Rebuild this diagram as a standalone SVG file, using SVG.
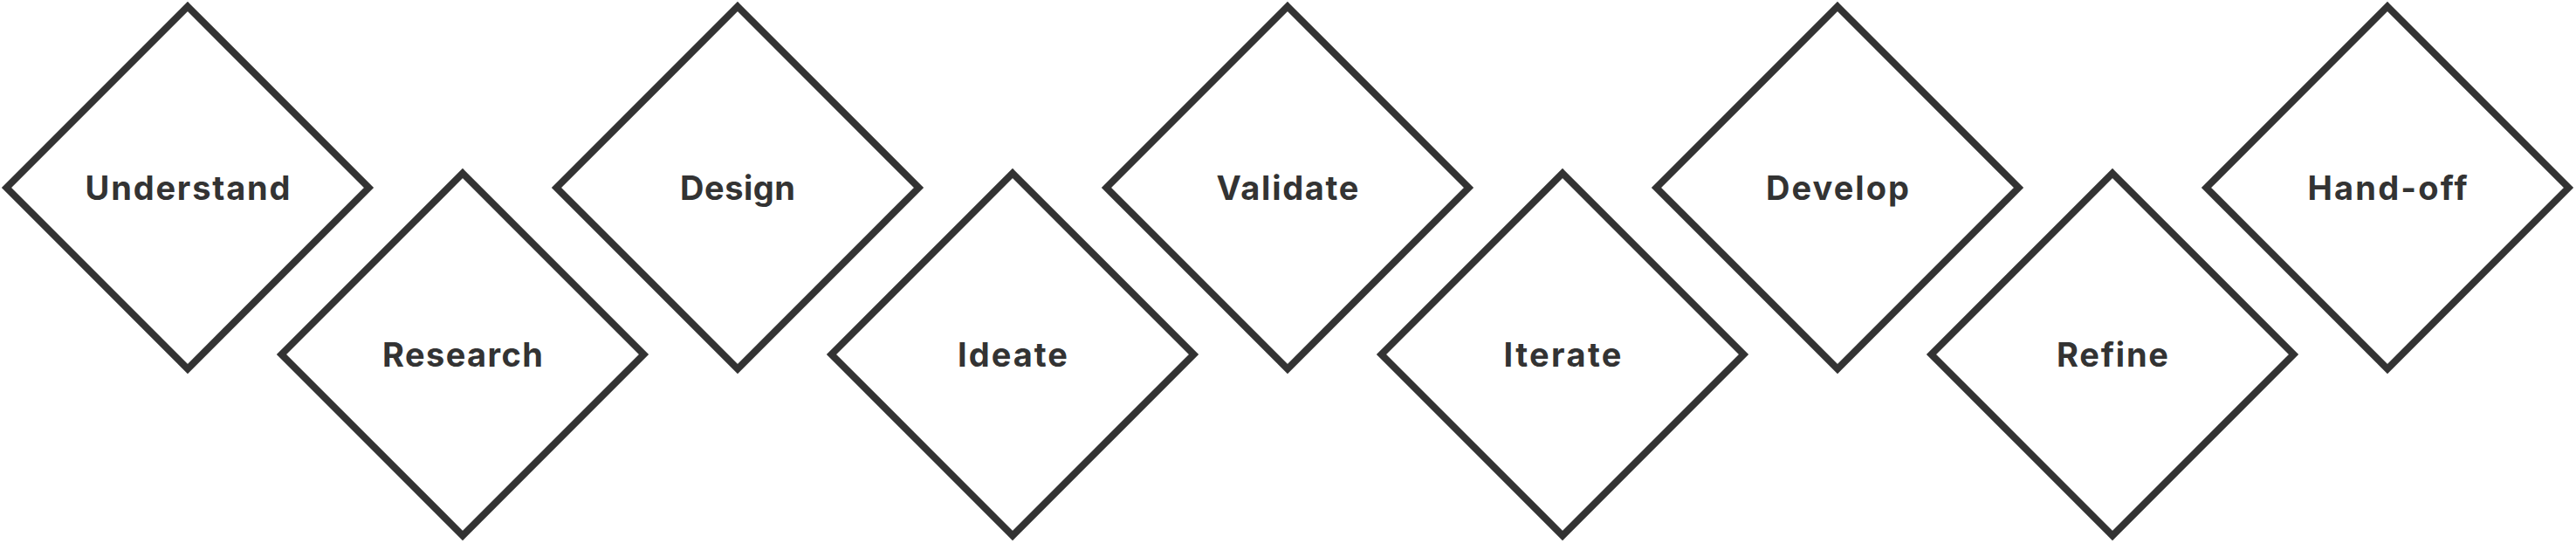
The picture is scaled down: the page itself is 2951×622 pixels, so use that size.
<svg xmlns="http://www.w3.org/2000/svg" width="2951" height="622" viewBox="0 0 2951 622">
<style>
.d{fill:#ffffff;stroke:#333333;stroke-width:8;stroke-linejoin:miter}
.t{font-family:Inter,"Open Sans","Liberation Sans",sans-serif;font-weight:700;font-size:38px;fill:#333333;text-anchor:middle}
</style>
<defs>
<path id="dia" d="M0,-207.5 L207.5,0 L0,207.5 L-207.5,0 Z"/>
</defs>
<rect width="2951" height="622" fill="#ffffff"/>
<g id="connectors"></g>
<g id="understand" transform="translate(215,215)"><use href="#dia" class="d"/><text class="t" x="0" y="13.5" textLength="235" lengthAdjust="spacing">Understand</text></g>
<g id="research" transform="translate(530,406)"><use href="#dia" class="d"/><text class="t" x="0" y="14" textLength="184" lengthAdjust="spacing">Research</text></g>
<g id="design" transform="translate(845,215)"><use href="#dia" class="d"/><text class="t" x="0" y="13.5" textLength="132" lengthAdjust="spacing">Design</text></g>
<g id="ideate" transform="translate(1160,406)"><use href="#dia" class="d"/><text class="t" x="0" y="14" textLength="126" lengthAdjust="spacing">Ideate</text></g>
<g id="validate" transform="translate(1475,215)"><use href="#dia" class="d"/><text class="t" x="0" y="13.5" textLength="163" lengthAdjust="spacing">Validate</text></g>
<g id="iterate" transform="translate(1790,406)"><use href="#dia" class="d"/><text class="t" x="0" y="14" textLength="135" lengthAdjust="spacing">Iterate</text></g>
<g id="develop" transform="translate(2105,215)"><use href="#dia" class="d"/><text class="t" x="0" y="13.5" textLength="164" lengthAdjust="spacing">Develop</text></g>
<g id="refine" transform="translate(2420,406)"><use href="#dia" class="d"/><text class="t" x="0" y="14" textLength="128" lengthAdjust="spacing">Refine</text></g>
<g id="hand-off" transform="translate(2735,215)"><use href="#dia" class="d"/><text class="t" x="0" y="13.5" textLength="183" lengthAdjust="spacing">Hand-off</text></g>
</svg>
